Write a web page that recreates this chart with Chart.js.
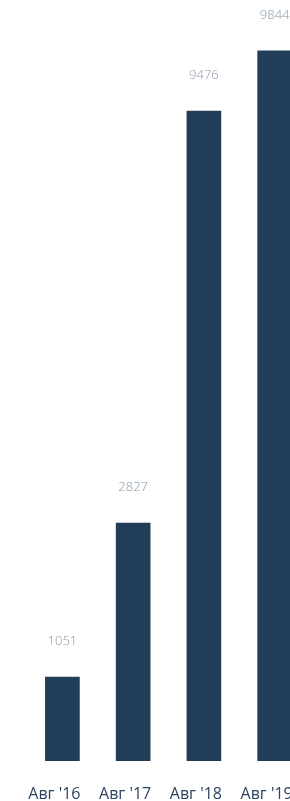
<!DOCTYPE html>
<html>
<head>
<meta charset="utf-8">
<script src="https://cdn.jsdelivr.net/npm/chart.js@4"></script>
<style>
  html, body { margin: 0; padding: 0; background: #ffffff; overflow: hidden; }
  #wrap { position: relative; width: 290px; height: 801px; }
</style>
</head>
<body>
<div id="wrap"><canvas id="c" width="290" height="801"></canvas></div>
<script>
// Categories (x-axis tick labels)
const categories = ["Авг '16", "Авг '17", "Авг '18", "Авг '19"];
// Bar lengths
const barValues = [1165, 3300, 9010, 9844];
// Value labels printed above the bars
const valueLabels = ["1051", "2827", "9476", "9844"];
// Axis extents (the last category runs past the right edge of the view)
const xMin = -0.882;
const xMax = 3.217;
const yMin = 0;
const yMax = 10550;

const labelPlugin = {
  id: 'valueLabels',
  afterDatasetsDraw(chart) {
    const ctx = chart.ctx;
    const meta = chart.getDatasetMeta(0);
    ctx.save();
    ctx.font = '300 13px "Open Sans", "Noto Sans", sans-serif';
    ctx.fillStyle = '#8796aa';
    ctx.textAlign = 'center';
    ctx.textBaseline = 'middle';
    meta.data.forEach((bar, i) => {
      ctx.fillText(valueLabels[i], bar.x, bar.y - 36);
    });
    ctx.restore();
  }
};

new Chart(document.getElementById('c'), {
  type: 'bar',
  data: {
    datasets: [{
      data: barValues.map((v, i) => ({ x: i, y: v })),
      backgroundColor: '#223d59',
      borderWidth: 0,
      barThickness: 34
    }]
  },
  options: {
    responsive: false,
    devicePixelRatio: 1,
    animation: false,
    layout: { padding: 0 },
    plugins: { legend: { display: false }, tooltip: { enabled: false } },
    scales: {
      x: {
        type: 'linear',
        min: xMin,
        max: xMax,
        offset: false,
        bounds: 'data',
        grid: { display: false, drawTicks: false, offset: false },
        border: { display: false },
        afterBuildTicks(axis) {
          axis.ticks = categories.map((_, i) => ({ value: i }));
        },
        ticks: {
          color: '#2d4461',
          font: { family: '"Open Sans", "Noto Sans", sans-serif', size: 16 },
          padding: 24,
          labelOffset: -8,
          maxRotation: 0,
          autoSkip: false,
          callback: (v) => categories[v]
        },
        afterFit(axis) {
          axis.height = 40;
          axis.paddingLeft = 0;
          axis.paddingRight = 0;
        }
      },
      y: {
        display: false,
        min: yMin,
        max: yMax
      }
    }
  },
  plugins: [labelPlugin]
});
</script>
</body>
</html>
